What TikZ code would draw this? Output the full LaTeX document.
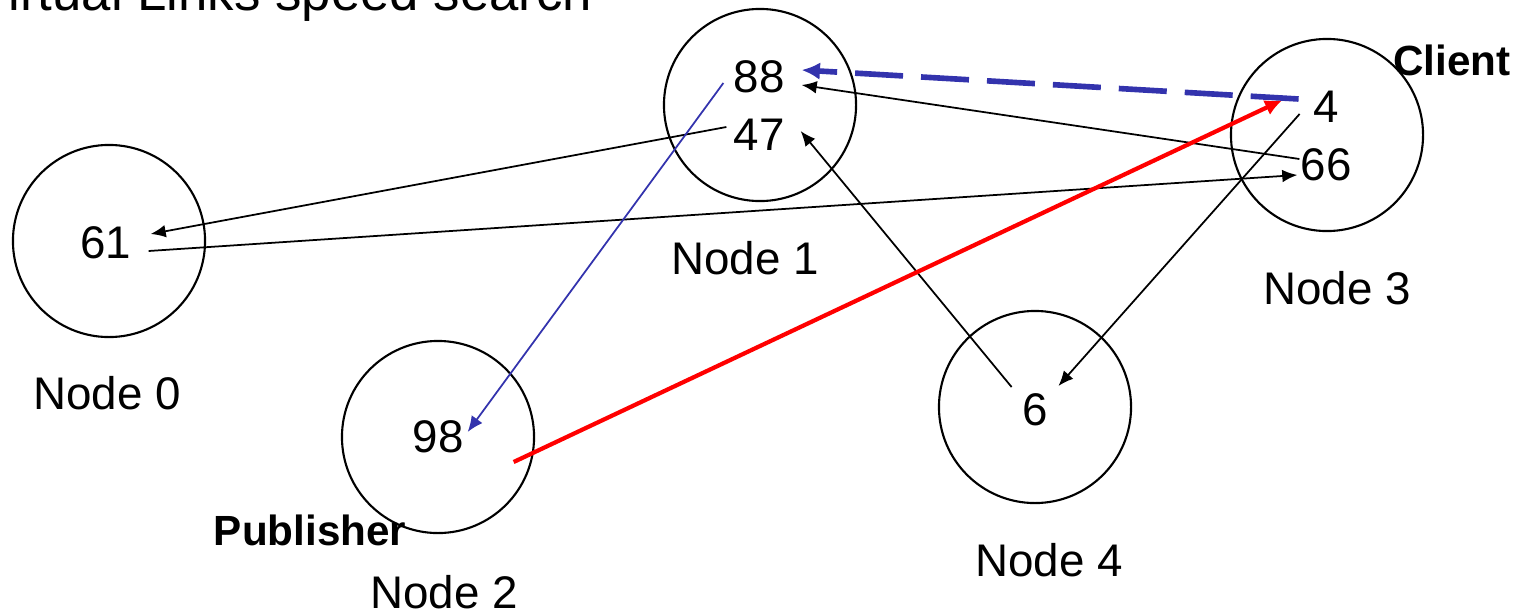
\documentclass[tikz,border=0pt]{standalone}
\usepackage{fontspec}
\setmainfont{Liberation Sans}
\usetikzlibrary{arrows.meta}

\begin{document}
\begin{tikzpicture}[x=0.01cm, y=-0.01cm,
    peer/.style={shape=circle, draw=black, line width=0.6pt, minimum size=1.92cm, inner sep=0pt},
    num/.style={inner sep=0pt, font=\fontsize{13}{15}\selectfont},
    lbl/.style={font=\fontsize{13}{15}\selectfont},
    role/.style={inner sep=0pt, font=\fontsize{12}{14}\selectfont\bfseries},
    hop/.style={line width=0.5pt, -{Latex[length=4.3pt,width=3.6pt]}},
    lookup/.style={color=blue!60!black!80, line width=0.5pt, -{Latex[length=4.5pt,width=3.8pt]}},
    publish/.style={color=red, line width=1.2pt, -{Latex[length=5pt,width=4.6pt]}},
    reply/.style={color=blue!60!black!80, line width=1.6pt, dash pattern=on 0.48cm off 0.18cm, -{Latex[length=5.2pt,width=5pt]}}]
    \useasboundingbox (0,0) rectangle (1519,612);
    \clip (0,0) rectangle (1519,612);
    \node[anchor=base west, font=\fontsize{15}{18}\selectfont] at (-38,11) (title) {Virtual Links speed search};
    % circles
    \node[peer] at (109,241) (c0) {};
    \node[peer] at (760,105) (c1) {};
    \node[peer] at (438,437) (c2) {};
    \node[peer] at (1327,135) (c3) {};
    \node[peer] at (1035,407) (c4) {};
    % keys
    \node[num] at (106,243) (n61) {61};
    \node[num] at (759,77) (n88) {88};
    \node[num] at (759,135) (n47) {47};
    \node[num] at (438,437) (n98) {98};
    \node[num] at (1326,107) (n4) {4};
    \node[num] at (1326,165) (n66) {66};
    \node[num] at (1035,410) (n6) {6};
    % labels
    \node[lbl] at (107,393) (l0) {Node 0};
    \node[lbl] at (745,258) (l1) {Node 1};
    \node[lbl] at (444,592) (l2) {Node 2};
    \node[lbl] at (1337,288) (l3) {Node 3};
    \node[lbl] at (1049,560) (l4) {Node 4};
    \node[role] at (310,530) (pub) {Publisher};
    \node[role] at (1452,60) (cli) {Client};
    % links
    \path [hop] ([shift={(-6.5,-8)}]n47.west) edge ([shift={(18.5,-9)}]n61.east);
    \path [hop] ([shift={(16.5,8)}]n61.east) edge ([shift={(-2.5,10)}]n66.west);
    \path [hop] ([shift={(-0.5,-6)}]n66.west) edge ([shift={(16.5,8)}]n88.east);
    \path [hop] ([shift={(-10,-23)}]n6.west) edge ([shift={(15.5,-4)}]n47.east);
    \path [hop] ([shift={(-13,7)}]n4.west) edge ([shift={(10,-24)}]n6.east);
    \path [lookup] ([shift={(-9.5,6)}]n88.west) edge ([shift={(3.5,-5)}]n98.east);
    \path [publish] ([shift={(49.5,25)}]n98.east) edge ([shift={(-30,-7)}]n4.west);
    \path [reply] ([shift={(-14,-8)}]n4.west) edge ([shift={(16.5,-7)}]n88.east);
\end{tikzpicture}
\end{document}
